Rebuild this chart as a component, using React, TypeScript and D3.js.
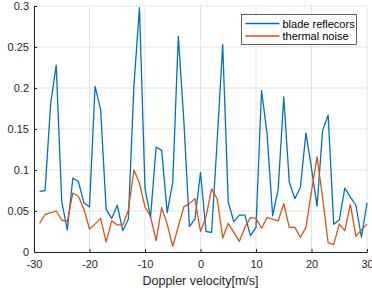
import React, { useEffect, useRef } from "react";
import * as d3 from "d3";

// doppler bins (m/s)
const velocity = [
  -29, -28, -27, -26, -25, -24, -23, -22, -21, -20,
  -19, -18, -17, -16, -15, -14, -13, -12, -11, -10,
  -9, -8, -7, -6, -5, -4, -3, -2, -1, 0,
  1, 2, 3, 4, 5, 6, 7, 8, 9, 10,
  11, 12, 13, 14, 15, 16, 17, 18, 19, 20,
  21, 22, 23, 24, 25, 26, 27, 28, 29, 30,
];

const blade = [
  0.074, 0.075, 0.181, 0.228, 0.061, 0.027, 0.09, 0.086, 0.06, 0.055,
  0.202, 0.174, 0.052, 0.041, 0.057, 0.026, 0.04, 0.202, 0.298, 0.078,
  0.042, 0.128, 0.124, 0.048, 0.085, 0.263, 0.16, 0.031, 0.04, 0.097,
  0.025, 0.024, 0.135, 0.253, 0.061, 0.037, 0.045, 0.045, 0.02, 0.03,
  0.197, 0.144, 0.044, 0.077, 0.189, 0.085, 0.065, 0.079, 0.145, 0.102,
  0.056, 0.148, 0.167, 0.034, 0.039, 0.078, 0.067, 0.057, 0.018, 0.06,
];

const thermal = [
  0.035, 0.046, 0.048, 0.05, 0.039, 0.037, 0.072, 0.068, 0.052, 0.028,
  0.034, 0.041, 0.012, 0.038, 0.033, 0.033, 0.051, 0.1, 0.084, 0.055,
  0.043, 0.014, 0.054, 0.034, 0.007, 0.031, 0.055, 0.059, 0.065, 0.025,
  0.043, 0.077, 0.065, 0.017, 0.035, 0.024, 0.013, 0.03, 0.042, 0.041,
  0.029, 0.042, 0.04, 0.038, 0.059, 0.03, 0.03, 0.018, 0.03, 0.074,
  0.116, 0.066, 0.011, 0.009, 0.034, 0.026, 0.058, 0.019, 0.027, 0.034,
];

const xTicks = [-30, -20, -10, 0, 10, 20, 30];
const yTicks = [0, 0.05, 0.1, 0.15, 0.2, 0.25, 0.3];
const seriesNames = ["blade reflecors", "thermal noise"];
const colors = ["#0072BD", "#D95319"];

export default function App() {
  const ref = useRef<SVGSVGElement>(null);

  useEffect(() => {
    const svg = d3.select(ref.current);
    svg.selectAll("*").remove();

    const width = 372,
      height = 297;
    const margin = { top: 6, right: 5, bottom: 45, left: 34 };

    const x = d3.scaleLinear().domain([-30, 30]).range([margin.left, width - margin.right]);
    const y = d3.scaleLinear().domain([0, 0.3]).range([height - margin.bottom, margin.top]);

    const font = "'Liberation Sans', Arial, sans-serif";
    const axisColor = "#262626";

    // grid
    const grid = svg.append("g");
    grid.selectAll(".vg")
      .data(xTicks)
      .enter()
      .append("line")
      .attr("x1", (d) => x(d))
      .attr("x2", (d) => x(d))
      .attr("y1", y(0))
      .attr("y2", y(0.3))
      .attr("stroke", "#e3e3e3");
    grid.selectAll(".hg")
      .data(yTicks)
      .enter()
      .append("line")
      .attr("x1", x(-30))
      .attr("x2", x(30))
      .attr("y1", (d) => y(d))
      .attr("y2", (d) => y(d))
      .attr("stroke", "#e3e3e3");

    // axes
    const xAxis = svg
      .append("g")
      .attr("transform", "translate(0," + y(0) + ")")
      .call(
        d3.axisBottom(x).tickValues(xTicks).tickSizeInner(-3).tickSizeOuter(0).tickPadding(8)
          .tickFormat((d) => String(d))
      );
    const yAxis = svg
      .append("g")
      .attr("transform", "translate(" + x(-30) + ",0)")
      .call(
        d3.axisLeft(y).tickValues(yTicks).tickSizeInner(-3).tickSizeOuter(0).tickPadding(5)
          .tickFormat((d) => String(+(+d).toFixed(2)))
      );
    [xAxis, yAxis].forEach((a) => {
      a.select(".domain").attr("stroke", axisColor);
      a.selectAll(".tick line").attr("stroke", axisColor);
      a.selectAll(".tick text")
        .attr("fill", axisColor)
        .style("font-family", font)
        .style("font-size", "11px");
    });

    svg
      .append("text")
      .attr("x", (x(-30) + x(30)) / 2)
      .attr("y", 285)
      .attr("text-anchor", "middle")
      .attr("fill", axisColor)
      .style("font-family", font)
      .style("font-size", "12.5px")
      .text("Doppler velocity[m/s]");

    // lines
    const line = d3
      .line<number>()
      .x((d, i) => x(velocity[i]))
      .y((d) => y(d));
    [blade, thermal].forEach((s, k) => {
      svg
        .append("path")
        .datum(s)
        .attr("d", line)
        .attr("fill", "none")
        .attr("stroke", colors[k])
        .attr("stroke-width", 1.3)
        .attr("stroke-linejoin", "round");
    });

    // legend
    const lg = svg.append("g").attr("transform", "translate(241.5,14.5)");
    lg.append("rect")
      .attr("width", 115)
      .attr("height", 30)
      .attr("fill", "white")
      .attr("stroke", "#3a3a3a")
      .attr("stroke-width", 0.8);
    seriesNames.forEach((name, k) => {
      const ly = 9 + k * 12.5;
      lg.append("line")
        .attr("x1", 4)
        .attr("x2", 38)
        .attr("y1", ly)
        .attr("y2", ly)
        .attr("stroke", colors[k])
        .attr("stroke-width", 1.3);
      lg.append("text")
        .attr("x", 41)
        .attr("y", ly + 4)
        .attr("fill", "#000")
        .style("font-family", font)
        .style("font-size", "11px")
        .text(name);
    });
  }, []);

  return (
    <div style={{ position: "absolute", left: 0, top: 0 }}>
      <svg ref={ref} width={372} height={297} style={{ display: "block", background: "white" }} />
    </div>
  );
}
